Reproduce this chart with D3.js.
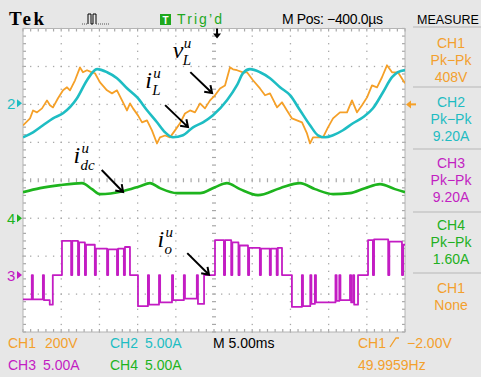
<!DOCTYPE html>
<html>
<head>
<meta charset="utf-8">
<script src="https://cdn.jsdelivr.net/npm/d3@7/dist/d3.min.js"></script>
<style>
  body { margin: 0; background: #e7e7e7; }
  svg { display: block; font-family: "Liberation Sans", Arial, sans-serif; }
</style>
</head>
<body>
<svg width="481" height="377"></svg>
<script>
const vL = [[0,-111],[0.92,-74],[1.31,-32],[1.83,-42],[2.49,-21],[3.14,21],[3.53,-5],[3.93,-16],[4.58,32],[5.24,74],[5.76,90],[6.15,74],[6.81,127],[7.46,195],[7.85,169],[8.38,180],[9.03,169],[9.42,164],[10.08,116],[10.99,74],[11.65,58],[12.3,74],[12.96,21],[13.61,-32],[14.01,5],[14.4,-21],[15.05,-58],[15.58,-95],[16.23,-84],[16.88,-137],[17.54,-206],[17.93,-174],[18.59,-164],[19.24,-174],[19.9,-137],[20.55,-100],[21.2,-48],[21.86,-32],[22.51,-42],[23.17,5],[23.82,-21],[24.48,21],[25.13,48],[25.79,84],[26.44,100],[27.09,195],[27.49,185],[28.01,180],[28.8,169],[29.32,169],[30.1,127],[31.02,84],[31.68,48],[32.33,58],[33.25,-16],[33.9,11],[34.55,-32],[35.21,-74],[35.86,-84],[36.52,-95],[37.17,-153],[37.57,-206],[37.96,-174],[38.61,-174],[39.27,-174],[39.92,-121],[40.58,-74],[41.49,-42],[42.41,-42],[43.06,21],[43.72,-42],[44.37,-5],[45.03,37],[45.68,100],[46.34,90],[46.99,143],[47.64,206],[48.3,169],[49.08,169],[49.74,127],[50,111]];

const iL = [[0,-4.49],[1.31,-3.83],[2.62,-2.9],[3.93,-1.98],[5.24,-1.32],[7.07,0.66],[8.38,3.04],[9.69,4.49],[11.0,4.09],[12.3,3.3],[13.61,1.98],[14.92,0.79],[16.23,-0.92],[17.54,-2.51],[18.59,-3.83],[19.63,-4.49],[20.94,-4.22],[22.25,-3.17],[23.56,-2.51],[24.87,-1.58],[26.7,0.4],[28.01,2.38],[28.8,3.96],[29.71,4.49],[31.02,4.09],[32.33,3.3],[33.64,2.11],[34.95,1.06],[36.26,-0.92],[37.57,-2.9],[38.61,-4.22],[39.53,-4.49],[40.58,-4.22],[41.88,-3.56],[43.19,-2.64],[44.5,-1.85],[45.81,-0.66],[47.12,1.45],[48.3,3.43],[49.08,4.09],[50,4.36]];

const iDc = [[0,3.43],[2.23,3.96],[4.84,4.36],[7.72,4.62],[9.03,3.83],[10.08,3.17],[13.09,3.56],[15.31,4.22],[16.62,4.62],[17.93,3.96],[20.16,3.3],[23.17,3.3],[25.13,4.09],[26.7,4.62],[28.4,3.83],[30.76,3.04],[33.64,3.96],[36.26,4.62],[38.22,3.83],[40.58,3.17],[42.8,3.3],[44.76,3.96],[46.73,4.49],[48.69,3.83],[50,3.43]];

// step output current: [time where level starts, level]
const iO = [[0,-3.2],[1.15,0],[1.3,-3.2],[2.6,0],[2.75,-3.3],[3.5,-3.9],[3.9,0],
  [5.1,4.5],[6.3,0],[6.45,4.5],[7.2,0],[7.35,4.3],[8.1,0],[8.25,4.0],[9.4,0],[9.55,3.5],[11.0,0],[11.15,3.4],[12.3,0],[12.45,3.5],[13.2,0],[13.35,3.7],[14.0,0],
  [15.05,-4.1],[16.35,0],[16.5,-3.9],[17.8,0],[17.95,-3.6],[19.5,0],[19.65,-3.3],[21.05,0],[21.2,-3.1],[22.75,0],[22.9,-3.8],[23.7,0],
  [25.13,4.6],[26.3,0],[26.45,4.6],[27.25,0],[27.4,4.3],[28.2,0],[28.35,3.9],[29.45,0],[29.6,3.6],[31.0,0],[31.15,3.5],[32.3,0],[32.45,3.5],[33.2,0],[33.35,3.6],[33.9,0],
  [35.2,-4.2],[36.5,0],[36.65,-4.1],[37.6,0],[37.75,-3.8],[38.2,0],[38.35,-3.6],[40.9,0],[41.05,-3.4],[41.4,0],[41.55,-3.3],[42.8,0],[42.95,-3.6],[43.2,0],[43.35,-3.9],[43.85,0],
  [45.16,4.6],[45.8,0],[45.95,4.7],[47.8,0],[47.95,4.4],[49.6,0],[49.75,4.0],[50,4.0]];

const measureRows = [
  ["CH1", "Pk\u2212Pk", "408V"],
  ["CH2", "Pk\u2212Pk", "9.20A"],
  ["CH3", "Pk\u2212Pk", "9.20A"],
  ["CH4", "Pk\u2212Pk", "1.60A"],
  ["CH1", "None"]
];
const measureColors = ["#f3a02e", "#1fbcc2", "#c21fc2", "#22b022", "#f3a02e"];

const ORANGE = "#f5a028", CYAN = "#1ebdc3", MAGENTA = "#c31cc3", GREEN = "#1eb41e";

function main() {
  let svg = d3.select("svg"),
    left = 23, right = 405, top = 28.5, bottom = 332;

  let x = d3.scaleLinear().domain([0, 50]).range([left, right]),
    div = d3.scaleLinear().domain([-4, 4]).range([bottom, top]);

  // channel scale: pos = ground offset in divisions above screen centre
  function chScale(perDiv, pos) {
    return d3.scaleLinear().domain([-(4 + pos) * perDiv, (4 - pos) * perDiv]).range([bottom, top]);
  }
  let y1 = chScale(200, 2.0), y2 = chScale(5, 2.03), y3 = chScale(5, -2.5), y4 = chScale(5, -1.0);

  svg.append("rect").attr("width", 481).attr("height", 377).attr("fill", "#e7e7e7");
  svg.append("rect")
    .attr("x", left).attr("y", top)
    .attr("width", right - left).attr("height", bottom - top)
    .attr("fill", "#fff");

  // graticule
  let grid = svg.append("g").attr("fill", "#a8a8a8");
  let minorD = d3.range(-4, 4.001, 0.2), minorT = d3.range(0, 50.001, 1);
  d3.range(5, 50, 5).forEach(function (t) {
    if (t == 25) return;
    grid.selectAll(null).data(minorD).enter().append("rect")
      .attr("x", x(t) - 0.6).attr("y", d => div(d) - 0.6)
      .attr("width", 1.3).attr("height", 1.3);
  });
  [-3, -2, -1, 1, 2, 3].forEach(function (d0) {
    grid.selectAll(null).data(minorT).enter().append("rect")
      .attr("x", t => x(t) - 0.6).attr("y", div(d0) - 0.6)
      .attr("width", 1.3).attr("height", 1.3);
  });
  // centre lines with minor ticks
  grid.selectAll(null).data(minorD).enter().append("rect")
    .attr("x", x(25) - 2).attr("y", d => div(d) - 0.6)
    .attr("width", 4).attr("height", 1.2);
  grid.selectAll(null).data(minorT).enter().append("rect")
    .attr("x", t => x(t) - 0.6).attr("y", div(0) - 2)
    .attr("width", 1.2).attr("height", 4);
  // border ticks
  grid.selectAll(null).data(minorT).enter().append("rect")
    .attr("x", t => x(t) - 0.6).attr("y", top).attr("width", 1.2).attr("height", 3);
  grid.selectAll(null).data(minorT).enter().append("rect")
    .attr("x", t => x(t) - 0.6).attr("y", bottom - 3).attr("width", 1.2).attr("height", 3);
  grid.selectAll(null).data(minorD).enter().append("rect")
    .attr("x", left).attr("y", d => div(d) - 0.6).attr("width", 3).attr("height", 1.2);
  grid.selectAll(null).data(minorD).enter().append("rect")
    .attr("x", right - 3).attr("y", d => div(d) - 0.6).attr("width", 3).attr("height", 1.2);
  svg.append("rect")
    .attr("x", left).attr("y", top)
    .attr("width", right - left).attr("height", bottom - top)
    .attr("fill", "none").attr("stroke", "#b4b4b4").attr("stroke-width", 1);

  // traces
  svg.append("clipPath").attr("id", "scr").append("rect")
    .attr("x", left).attr("y", top).attr("width", right - left).attr("height", bottom - top);
  let traces = svg.append("g").attr("clip-path", "url(#scr)").attr("fill", "none")
    .attr("stroke-linejoin", "round");

  traces.append("path").datum(iDc)
    .attr("stroke", GREEN).attr("stroke-width", 2.6)
    .attr("d", d3.line().x(d => x(d[0])).y(d => y4(d[1])).curve(d3.curveMonotoneX));
  traces.append("path").datum(iO)
    .attr("stroke", MAGENTA).attr("stroke-width", 1.8)
    .attr("d", d3.line().x(d => x(d[0])).y(d => y3(d[1])).curve(d3.curveStepAfter));
  traces.append("path").datum(vL)
    .attr("stroke", ORANGE).attr("stroke-width", 1.8)
    .attr("d", d3.line().x(d => x(d[0])).y(d => y1(d[1])));
  traces.append("path").datum(iL)
    .attr("stroke", CYAN).attr("stroke-width", 2.6)
    .attr("d", d3.line().x(d => x(d[0])).y(d => y2(d[1])).curve(d3.curveMonotoneX));

  // annotations: label at (t, div), arrow from (t, div) to (t, div)
  let notes = [
    { main: "v", sub: "L", t: 19.6, d: 3.22, from: [21.9, 2.85], to: [24.75, 2.3] },
    { main: "i", sub: "L", t: 16.0, d: 2.44, from: [18.6, 1.98], to: [21.6, 1.4] },
    { main: "i", sub: "dc", t: 6.6, d: 0.46, from: [10.3, 0.27], to: [13.1, -0.31] },
    { main: "i", sub: "o", t: 17.6, d: -1.76, from: [21.5, -1.92], to: [24.35, -2.49] }
  ];
  let ann = svg.append("g").attr("font-family", "'Liberation Serif', 'Times New Roman', serif")
    .attr("font-style", "italic").attr("fill", "#000");
  notes.forEach(function (n) {
    let px = x(n.t), py = div(n.d);
    ann.append("text").attr("x", px).attr("y", py).attr("font-size", 24).text(n.main);
    ann.append("text").attr("x", px + (n.main == "v" ? 11 : 8)).attr("y", py - 10).attr("font-size", 15).text("u");
    ann.append("text").attr("x", px + (n.main == "v" ? 10 : 7)).attr("y", py + 7).attr("font-size", 15).text(n.sub);
    let x1 = x(n.from[0]), y1a = div(n.from[1]), x2 = x(n.to[0]), y2a = div(n.to[1]);
    let a = Math.atan2(y2a - y1a, x2 - x1), h = 8;
    ann.append("path")
      .attr("d", "M" + x1 + "," + y1a + "L" + x2 + "," + y2a +
        "M" + (x2 - h * Math.cos(a - 0.6)) + "," + (y2a - h * Math.sin(a - 0.6)) + "L" + x2 + "," + y2a +
        "L" + (x2 - h * Math.cos(a + 0.6)) + "," + (y2a - h * Math.sin(a + 0.6)))
      .attr("stroke", "#000").attr("stroke-width", 2).attr("fill", "none");
  });

  // channel ground markers
  function marker(label, color, yy) {
    svg.append("text").attr("x", 7).attr("y", yy + 5.5).attr("font-size", 15)
      .attr("fill", color).text(label);
    svg.append("path").attr("d", "M17," + (yy - 4) + "L22," + yy + "L17," + (yy + 4) + "Z").attr("fill", color);
  }
  marker("2", CYAN, y2(0));
  marker("4", GREEN, y4(0));
  marker("3", MAGENTA, y3(0));
  // trigger level marker (right)
  svg.append("path").attr("d", "M" + (right + 1) + "," + y1(0) + "L" + (right + 6) + "," + (y1(0) - 4) + "L" + (right + 6) + "," + (y1(0) + 4) + "Z").attr("fill", ORANGE);
  svg.append("rect").attr("x", right + 5).attr("y", y1(0) - 1).attr("width", 6).attr("height", 2).attr("fill", ORANGE);
  // trigger position marker (top)
  let tx = x(25.4);
  svg.append("path").attr("d", "M" + (tx - 1) + "," + (top) + "h2v5h3l-4,5l-4,-5h3z").attr("fill", "#000");

  // header
  svg.append("text").attr("x", 9).attr("y", 25).attr("font-family", "'Liberation Serif', serif")
    .attr("font-weight", "bold").attr("font-size", 19).attr("textLength", 35).text("Tek");
  svg.append("path").attr("d", "M88,24V14h3v10h2V14h3v10").attr("stroke", "#000").attr("fill", "none").attr("stroke-width", 1);
  svg.append("path").attr("d", "M82,24h6M96,24h14").attr("stroke", "#555").attr("stroke-dasharray", "1,1").attr("fill", "none");
  svg.append("rect").attr("x", 160).attr("y", 14).attr("width", 11).attr("height", 11).attr("fill", "#1ea81e");
  svg.append("text").attr("x", 165.5).attr("y", 23.5).attr("text-anchor", "middle").attr("font-size", 10)
    .attr("font-weight", "bold").attr("fill", "#fff").text("T");
  svg.append("text").attr("x", 177).attr("y", 24).attr("font-size", 14).attr("fill", "#1ea81e")
    .attr("textLength", 45).text("Trig\u2019d");
  svg.append("text").attr("x", 282).attr("y", 24).attr("font-size", 14).attr("fill", "#000")
    .attr("textLength", 101).text("M Pos: \u2212400.0\u00b5s");
  svg.append("text").attr("x", 417).attr("y", 24).attr("font-size", 12.5).attr("fill", "#000")
    .text("MEASURE");

  // measure panel
  let panel = svg.append("g").attr("font-size", 14).attr("text-anchor", "middle");
  let sepY = [27, 87, 149, 212, 273];
  sepY.forEach(function (s) {
    panel.append("line").attr("x1", 413).attr("x2", 481).attr("y1", s).attr("y2", s)
      .attr("stroke", "#b8b8b8").attr("stroke-width", 1.2);
  });
  let firstBase = [48, 107, 168, 230, 293];
  measureRows.forEach(function (row, i) {
    row.forEach(function (txt, j) {
      panel.append("text").attr("x", 451).attr("y", firstBase[i] + j * 17)
        .attr("fill", measureColors[i]).text(txt);
    });
  });

  // footer
  let foot = [
    ["CH1", 8, 348, "#f3a02e"], ["200V", 45, 348, "#f3a02e"],
    ["CH2", 110, 348, CYAN], ["5.00A", 145, 348, CYAN],
    ["M 5.00ms", 213, 348, "#000"],
    ["CH1", 358, 348, "#f3a02e"], ["\u22122.00V", 407, 348, "#f3a02e"],
    ["CH3", 8, 370, MAGENTA], ["5.00A", 43, 370, MAGENTA],
    ["CH4", 110, 370, GREEN], ["5.00A", 145, 370, GREEN],
    ["49.9959Hz", 358, 370, "#f3a02e"]
  ];
  svg.append("g").attr("font-size", 14).selectAll("text").data(foot).enter().append("text")
    .attr("x", d => d[1]).attr("y", d => d[2]).attr("fill", d => d[3]).text(d => d[0]);
  svg.append("path").attr("d", "M390,347L396,338h3").attr("stroke", "#f3a02e").attr("fill", "none").attr("stroke-width", 1.3);
}
main();
</script>
</body>
</html>
